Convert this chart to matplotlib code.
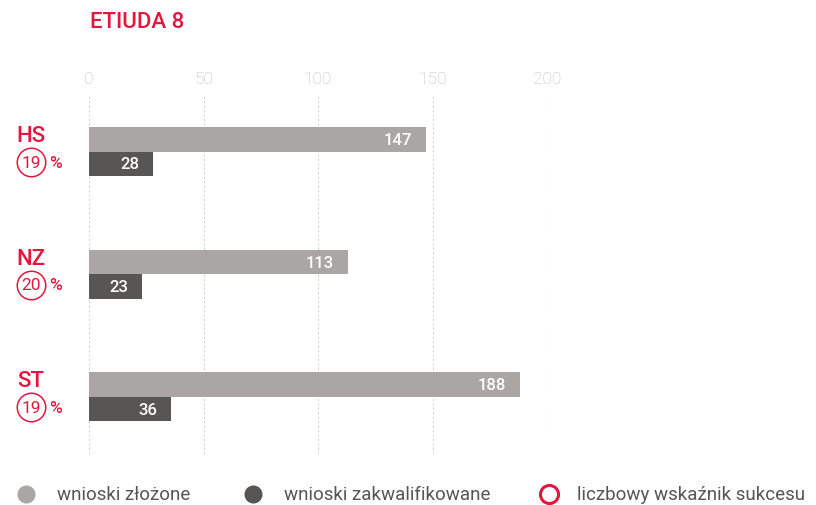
import matplotlib

matplotlib.use("Agg")
import matplotlib.pyplot as plt
import matplotlib.transforms as mtransforms
import numpy as np

# data
groups = ["HS", "NZ", "ST"]
submitted = [147, 113, 188]     # wnioski złożone
qualified = [28, 23, 36]        # wnioski zakwalifikowane
success_pct = [19, 20, 19]      # liczbowy wskaźnik sukcesu
x_ticks = [0, 50, 100, 150, 200]
title = "ETIUDA 8"
legend_labels = ["wnioski złożone", "wnioski zakwalifikowane", "liczbowy wskaźnik sukcesu"]

RED = "#e2173d"
LIGHT = "#aaa6a3"
DARK = "#575654"
TICK_GREY = "#bdbdbd"
TEXT_GREY = "#555555"

plt.rcParams["font.family"] = ["Roboto", "DejaVu Sans"]

W, H = 816, 506
fig = plt.figure(figsize=(W / 100, H / 100), dpi=100)
ax = fig.add_axes([89 / W, 1 - 455 / H, (547 - 89) / W, (455 - 97) / H])

pos = np.arange(len(groups))
bh = 0.198
ax.barh(pos - 0.1, submitted, height=bh, color=LIGHT, zorder=2)
ax.barh(pos + 0.1, qualified, height=bh, color=DARK, zorder=2)

# value labels inside the bar ends
for p, v in zip(pos, submitted):
    ax.annotate(str(v), (v, p - 0.1), xytext=(-10, 0), textcoords="offset points",
                ha="right", va="center", color="white", fontsize=12, fontweight="medium")
for p, v in zip(pos, qualified):
    ax.annotate(str(v), (v, p + 0.1), xytext=(-10, 0), textcoords="offset points",
                ha="right", va="center", color="white", fontsize=12, fontweight="medium")

ax.set_xlim(0, 200)
ax.set_ylim(2.467, -0.455)
ax.set_xticks(x_ticks)
ax.xaxis.tick_top()
ax.tick_params(axis="x", length=0, pad=7.5, labelsize=12.5, labelcolor=TICK_GREY)
for lbl in ax.get_xticklabels():
    lbl.set_fontweight("light")
ax.set_yticks([])
for s in ax.spines.values():
    s.set_visible(False)
ax.grid(axis="x", color="#d4d4d4", linestyle=(0, (2, 2)), linewidth=0.8, zorder=0)

# left-hand group labels with success rate rings
tr = mtransforms.blended_transform_factory(fig.transFigure, ax.transData)
for p, g, pct in zip(pos, groups, success_pct):
    ax.text(31 / W, p - 0.13, g, transform=tr, ha="center", va="center",
            color=RED, fontsize=16, fontweight="medium", clip_on=False)
    ax.plot([31 / W], [p + 0.085], transform=tr, marker="o", markersize=20.5,
            mfc="white", mec=RED, mew=1.1, clip_on=False, zorder=5)
    ax.text(31 / W, p + 0.085, str(pct), transform=tr, ha="center", va="center",
            color=RED, fontsize=12.5, clip_on=False, zorder=6)
    ax.text(55.5 / W, p + 0.085, "%", transform=tr, ha="center", va="center",
            color=RED, fontsize=12.5, fontweight="medium", clip_on=False)

fig.text(90 / W, 1 - 22 / H, title, ha="left", va="center", color=RED,
         fontsize=16, fontweight="medium")

# legend row
ly = 1 - 495 / H
leg_marks = [(26, dict(marker="o", markersize=12, mfc=LIGHT, mec=LIGHT)),
             (253, dict(marker="o", markersize=12, mfc=DARK, mec=DARK)),
             (549, dict(marker="o", markersize=13, mfc="white", mec=RED, mew=2.2))]
leg_text_x = [57, 284, 577]
for (mx, style), tx, lab in zip(leg_marks, leg_text_x, legend_labels):
    fig.add_artist(plt.Line2D([mx / W], [ly], transform=fig.transFigure, **style))
    fig.text(tx / W, ly, lab, ha="left", va="center", color=TEXT_GREY, fontsize=13.5)

fig.savefig("out.png", dpi=100)
